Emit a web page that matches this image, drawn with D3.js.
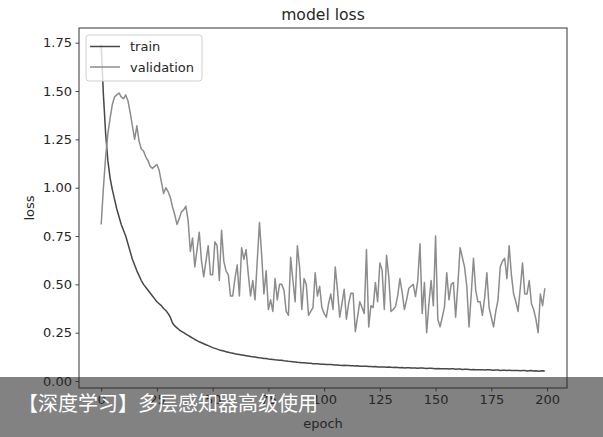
<!DOCTYPE html>
<html>
<head>
<meta charset="utf-8">
<script src="https://cdn.jsdelivr.net/npm/d3@7/dist/d3.min.js"></script>
<style>
  html, body { margin: 0; padding: 0; background: #ffffff; }
  svg { display: block; }
</style>
</head>
<body>
<svg id="chart" width="603" height="437"></svg>
<script>
// ---- data ----
const title = "model loss";
const xLabel = "epoch";
const yLabel = "loss";
const seriesNames = ["train", "validation"];
const xTicks = [0, 25, 50, 75, 100, 125, 150, 175, 200];
const yTicks = [0.00, 0.25, 0.50, 0.75, 1.00, 1.25, 1.50, 1.75];
const bannerText = "【深度学习】多层感知器高级使用";

const trainLoss = [
  1.74, 1.48, 1.28, 1.14, 1.05, 0.99, 0.94, 0.89, 0.85, 0.81,
  0.78, 0.75, 0.71, 0.67, 0.63, 0.60, 0.57, 0.545, 0.52, 0.50,
  0.485, 0.47, 0.455, 0.44, 0.425, 0.41, 0.40, 0.39, 0.375, 0.365,
  0.35, 0.33, 0.30, 0.285, 0.275, 0.265, 0.257, 0.25, 0.243, 0.236,
  0.229, 0.222, 0.215, 0.209, 0.203, 0.198, 0.193, 0.188, 0.183, 0.178,
  0.173, 0.169, 0.165, 0.161, 0.158, 0.155, 0.152, 0.149, 0.146, 0.144,
  0.141, 0.139, 0.137, 0.135, 0.133, 0.131, 0.129, 0.127, 0.125, 0.124,
  0.122, 0.120, 0.119, 0.117, 0.116, 0.114, 0.113, 0.112, 0.110, 0.109,
  0.108, 0.107, 0.105, 0.104, 0.102, 0.101, 0.100, 0.099, 0.097, 0.096,
  0.095, 0.094, 0.093, 0.092, 0.092, 0.090, 0.089, 0.089, 0.088, 0.087,
  0.087, 0.086, 0.085, 0.085, 0.084, 0.083, 0.083, 0.082, 0.081, 0.082,
  0.080, 0.080, 0.079, 0.079, 0.078, 0.079, 0.077, 0.077, 0.076, 0.077,
  0.075, 0.075, 0.074, 0.075, 0.073, 0.073, 0.072, 0.073, 0.071, 0.072,
  0.071, 0.070, 0.071, 0.070, 0.069, 0.070, 0.068, 0.069, 0.069, 0.067,
  0.068, 0.068, 0.066, 0.067, 0.067, 0.066, 0.065, 0.066, 0.066, 0.065,
  0.064, 0.065, 0.064, 0.064, 0.063, 0.064, 0.062, 0.063, 0.063, 0.061,
  0.062, 0.062, 0.060, 0.061, 0.061, 0.060, 0.059, 0.060, 0.059, 0.058,
  0.059, 0.059, 0.057, 0.058, 0.058, 0.057, 0.056, 0.057, 0.057, 0.055,
  0.056, 0.056, 0.055, 0.056, 0.054, 0.055, 0.055, 0.054, 0.053, 0.054,
  0.054, 0.052, 0.053, 0.054, 0.052, 0.053, 0.051, 0.052, 0.053, 0.052
];

const valLoss = [
  0.81, 1.00, 1.16, 1.28, 1.36, 1.43, 1.47, 1.48, 1.49, 1.47,
  1.46, 1.48, 1.45, 1.39, 1.32, 1.25, 1.32, 1.24, 1.20, 1.19,
  1.16, 1.14, 1.11, 1.10, 1.11, 1.12, 1.09, 1.03, 0.97, 1.00,
  0.98, 0.95, 0.90, 0.86, 0.81, 0.84, 0.875, 0.885, 0.905, 0.83,
  0.67, 0.74, 0.59, 0.68, 0.77, 0.62, 0.54, 0.62, 0.70, 0.55,
  0.55, 0.72, 0.70, 0.52, 0.78, 0.62, 0.57, 0.55, 0.44, 0.44,
  0.53, 0.60, 0.44, 0.69, 0.63, 0.68, 0.55, 0.44, 0.52, 0.42,
  0.62, 0.82, 0.65, 0.45, 0.57, 0.37, 0.42, 0.36, 0.53, 0.42,
  0.50, 0.50, 0.47, 0.36, 0.34, 0.64, 0.52, 0.41, 0.70, 0.59,
  0.37, 0.53, 0.50, 0.34, 0.36, 0.38, 0.56, 0.44, 0.49, 0.38,
  0.35, 0.33, 0.40, 0.45, 0.37, 0.59, 0.47, 0.33, 0.40, 0.475,
  0.32, 0.40, 0.454, 0.454, 0.255, 0.33, 0.41, 0.38, 0.35, 0.68,
  0.28, 0.39, 0.38, 0.51, 0.41, 0.61, 0.575, 0.37, 0.65, 0.54,
  0.36, 0.37, 0.385, 0.44, 0.53, 0.46, 0.37, 0.42, 0.48, 0.49,
  0.50, 0.437, 0.52, 0.71, 0.35, 0.51, 0.25, 0.40, 0.52, 0.39,
  0.75, 0.32, 0.28, 0.33, 0.385, 0.56, 0.42, 0.50, 0.51, 0.33,
  0.50, 0.69, 0.64, 0.59, 0.49, 0.28, 0.45, 0.635, 0.47, 0.41,
  0.41, 0.34, 0.43, 0.56, 0.38, 0.33, 0.28, 0.36, 0.42, 0.59,
  0.62, 0.635, 0.53, 0.70, 0.55, 0.45, 0.41, 0.36, 0.48, 0.61,
  0.45, 0.45, 0.52, 0.40, 0.37, 0.32, 0.25, 0.45, 0.39, 0.48
];

// ---- layout ----
const svg = d3.select("#chart");
const W = 603, H = 437;
const plot = { left: 79, right: 567, top: 28, bottom: 388 };
const FONT = "'DejaVu Sans', sans-serif";

const x = d3.scaleLinear().domain([-9.95, 208.95]).range([plot.left, plot.right]);
const y = d3.scaleLinear().domain([-0.036, 1.826]).range([plot.bottom, plot.top]);

svg.append("rect").attr("width", W).attr("height", H).attr("fill", "#ffffff");

// clip
svg.append("defs").append("clipPath").attr("id", "clip")
  .append("rect").attr("x", plot.left).attr("y", plot.top)
  .attr("width", plot.right - plot.left).attr("height", plot.bottom - plot.top);

const line = d3.line().x((d, i) => x(i)).y(d => y(d));

const colors = { train: "#474747", validation: "#8c8c8c" };

const g = svg.append("g").attr("clip-path", "url(#clip)");
g.append("path").datum(trainLoss).attr("d", line)
  .attr("fill", "none").attr("stroke", colors.train).attr("stroke-width", 1.5)
  .attr("stroke-linejoin", "round");
g.append("path").datum(valLoss).attr("d", line)
  .attr("fill", "none").attr("stroke", colors.validation).attr("stroke-width", 1.5)
  .attr("stroke-linejoin", "round");

// axes
const xAxis = d3.axisBottom(x).tickValues(xTicks).tickSize(3.5).tickPadding(3.5).tickFormat(d3.format("d"));
const yAxis = d3.axisLeft(y).tickValues(yTicks).tickSize(3.5).tickPadding(3.5).tickFormat(d3.format(".2f"));

const gx = svg.append("g").attr("transform", `translate(0,${plot.bottom})`).call(xAxis);
const gy = svg.append("g").attr("transform", `translate(${plot.left},0)`).call(yAxis);
[gx, gy].forEach(a => {
  a.select(".domain").remove();
  a.selectAll("line").attr("stroke", "#333").attr("stroke-width", 0.9);
  a.selectAll("text").attr("fill", "#262626").style("font-family", FONT).style("font-size", "13px");
});

// frame
svg.append("rect").attr("x", plot.left).attr("y", plot.top)
  .attr("width", plot.right - plot.left).attr("height", plot.bottom - plot.top)
  .attr("fill", "none").attr("stroke", "#333").attr("stroke-width", 1);

// title and labels
svg.append("text").attr("x", (plot.left + plot.right) / 2).attr("y", 20)
  .attr("text-anchor", "middle").attr("fill", "#262626")
  .style("font-family", FONT).style("font-size", "15.6px").text(title);
svg.append("text").attr("x", (plot.left + plot.right) / 2).attr("y", 428)
  .attr("text-anchor", "middle").attr("fill", "#262626")
  .style("font-family", FONT).style("font-size", "13px").text(xLabel);
svg.append("text").attr("transform", `translate(34,${(plot.top + plot.bottom) / 2}) rotate(-90)`)
  .attr("text-anchor", "middle").attr("fill", "#262626")
  .style("font-family", FONT).style("font-size", "13px").text(yLabel);

// legend
const leg = svg.append("g");
leg.append("rect").attr("x", 86).attr("y", 35).attr("width", 116).attr("height", 46)
  .attr("rx", 3).attr("fill", "#ffffff").attr("fill-opacity", 0.8)
  .attr("stroke", "#d0d0d0").attr("stroke-width", 1);
seriesNames.forEach((name, i) => {
  const ly = 46.5 + i * 20.5;
  leg.append("line").attr("x1", 90).attr("x2", 120).attr("y1", ly).attr("y2", ly)
    .attr("stroke", colors[name]).attr("stroke-width", 1.5);
  leg.append("text").attr("x", 130).attr("y", ly + 4.6).attr("fill", "#262626")
    .style("font-family", FONT).style("font-size", "13px").text(name);
});

// banner overlay
svg.append("rect").attr("x", 0).attr("y", 377).attr("width", W).attr("height", H - 377)
  .attr("fill", "rgb(40,40,40)").attr("fill-opacity", 0.58);
svg.append("text").attr("x", 18).attr("y", 411).attr("fill", "#ffffff")
  .style("font-family", "'Noto Sans CJK SC', sans-serif").style("font-size", "20px")
  .text(bannerText);
</script>
</body>
</html>
